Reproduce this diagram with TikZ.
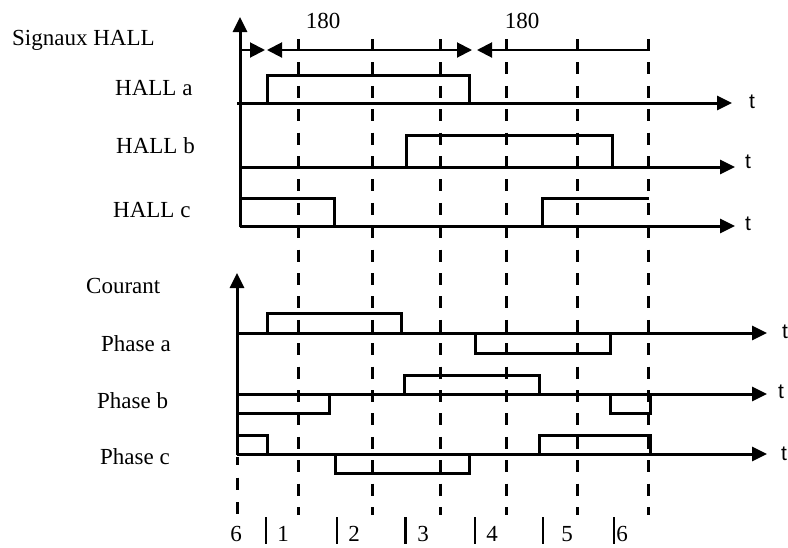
\documentclass[tikz,border=0pt]{standalone}
\usepackage{fontspec}
\setmainfont{Liberation Serif}
\newfontfamily\tfont{Liberation Sans}
\usetikzlibrary{arrows.meta}
\begin{document}
\begin{tikzpicture}[x=1pt,y=-1pt,
  lbl/.style={anchor=base west,inner sep=0pt,font=\fontsize{23}{27}\selectfont},
  tlbl/.style={anchor=base west,inner sep=0pt,font=\tfont\fontsize{21}{24}\selectfont},
  num/.style={anchor=base,inner sep=0pt,font=\fontsize{23}{27}\selectfont},
  axis/.style={line width=3pt,-{Triangle[length=15pt,width=14pt]}},
  wave/.style={line width=3pt},
  guide/.style={line width=3pt,dash pattern=on 12pt off 11.4pt},
  dim/.style={line width=2pt},
  bar/.style={line width=1.8pt},
  tri/.tip={Triangle[length=15pt,width=15pt]}
]
\useasboundingbox (0,0) rectangle (788,547);

% guide lines
\foreach \gx in {298,372,440,506,577,648}
  \draw[guide] (\gx,39) -- (\gx,515);
\draw[guide,dash pattern=on 12pt off 12.5pt,dash phase=4pt] (237,457) -- (237,515);

% dimension line
\draw[dim,-tri] (240,50) -- (265,50);
\draw[dim,tri-tri] (267,50) -- (472,50);
\draw[dim,tri-] (477,50) -- (650,50);
\node[num] (d1) at (323,28) {180};
\node[num] (d2) at (522,28) {180};

% HALL signals
\draw[axis] (240,227) -- (240,17);
\draw[axis] (237,103) -- (732,103);
\draw[axis] (240,167) -- (735,167);
\draw[axis] (240,226) -- (735,226);
\draw[wave] (267,103) -- (267,75) -- (469,75) -- (469,103);
\draw[wave] (406,167) -- (406,135) -- (612,135) -- (612,167);
\draw[wave] (240,198) -- (334,198) -- (334,226);
\draw[wave] (542,226) -- (542,198) -- (649,198);

\node[lbl] (sig) at (12,45) {Signaux HALL};
\node[lbl] (ha) at (115,95) {HALL a};
\node[lbl] (hb) at (116,153) {HALL b};
\node[lbl] (hc) at (113,217) {HALL c};
\node[tlbl] (t1) at (749,108) {t};
\node[tlbl] (t2) at (745,168) {t};
\node[tlbl] (t3) at (745,230) {t};

% currents
\draw[axis] (237,455) -- (237,273);
\draw[axis] (237,333) -- (767,333);
\draw[axis] (237,394) -- (767,394);
\draw[axis] (237,454) -- (767,454);
\draw[wave] (267,333) -- (267,313) -- (401,313) -- (401,333);
\draw[wave] (475,333) -- (475,353) -- (610,353) -- (610,333);
\draw[wave] (237,413) -- (329,413) -- (329,394);
\draw[wave] (404,394) -- (404,375) -- (539,375) -- (539,394);
\draw[wave] (610,394) -- (610,413) -- (650,413) -- (650,394);
\draw[wave] (237,435) -- (267,435) -- (267,454);
\draw[wave] (335,454) -- (335,473) -- (469,473) -- (469,454);
\draw[wave] (539,454) -- (539,435) -- (650,435) -- (650,454);

\node[lbl] (cour) at (86,293) {Courant};
\node[lbl] (pa) at (101,351) {Phase a};
\node[lbl] (pb) at (97,408) {Phase b};
\node[lbl] (pc) at (100,464) {Phase c};
\node[tlbl] (t4) at (782,338) {t};
\node[tlbl] (t5) at (778,398) {t};
\node[tlbl] (t6) at (781,460) {t};

% sector numbers
\node[num] (n6a) at (236,541) {6};
\node[num] (n1) at (283,541) {1};
\node[num] (n2) at (354,541) {2};
\node[num] (n3) at (423,541) {3};
\node[num] (n4) at (492,541) {4};
\node[num] (n5) at (567,541) {5};
\node[num] (n6b) at (622,541) {6};
\draw[bar] (266,517) -- (266,544);
\draw[bar] (337,517) -- (337,544);
\draw[bar,line width=3pt] (405,517) -- (405,544);
\draw[bar] (475,517) -- (475,544);
\draw[bar] (543,517) -- (543,544);
\draw[bar] (614,517) -- (614,544);
\end{tikzpicture}
\end{document}
